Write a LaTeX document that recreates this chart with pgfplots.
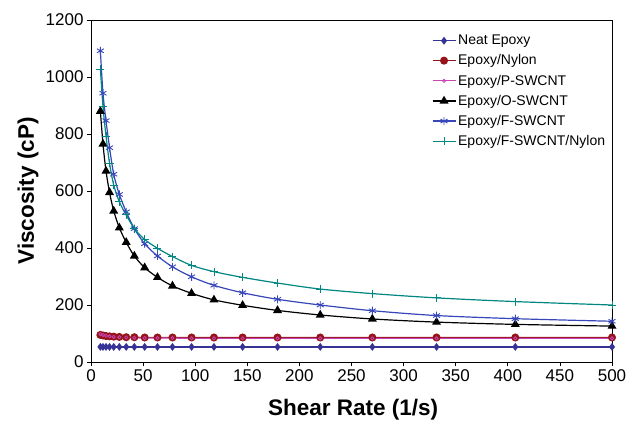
\documentclass[border=0pt]{standalone}
\usepackage{fontspec}
\setmainfont{Liberation Sans}
\usepackage{pgfplots}
\pgfplotsset{compat=1.18}
\definecolor{neatc}{RGB}{55,50,150}
\definecolor{nylonc}{RGB}{150,20,25}
\definecolor{pswc}{RGB}{200,70,180}
\definecolor{fswc}{RGB}{55,70,185}
\definecolor{tealc}{RGB}{0,135,130}

\pgfplotstableread{
x     neat nylon pswc oswc fswc fnyl
9     53   95    98   880  1092 1028
11.5  53   93    95   765  943  896
14.4  53   91    92   670  847  793
17.8  53   90    90   595  752  697
21.8  53   89    88   530  659  621
27.2  53   88    87   471  588  562
33.8  53   87    86   420  527  516
41.6  53   87    85   372  468  468
51.5  53   86    84   331  415  430
63.8  53   86    84   297  372  399
78.2  53   86    84   267  334  370
96.5  53   86    83   241  299  339
118   53   86    83   218  269  317
145.5 53   86    83   199  243  297
179   53   86    83   181  220  277
220   53   86    83   165  200  256
270   53   86    83   151  180  240
331.6 53   86    83   140  163  225
407.2 53   86    83   132  152  212
500   53   86    83   126  143  200
}\visc

\begin{document}
\begin{tikzpicture}
\begin{axis}[
    name=ax,
    scale only axis,
    width=521pt, height=342pt,
    xmin=0, xmax=500, ymin=0, ymax=1200,
    xtick={0,50,...,500},
    ytick={0,200,...,1200},
    tick align=outside,
    xtick pos=left, ytick pos=left,
    major tick length=4pt,
    axis line style={line width=0.8pt},
    tick style={line width=0.8pt, black},
    /pgf/number format/assume math mode=true,
    /pgf/number format/set thousands separator={},
    tick label style={font=\fontsize{17}{19}\selectfont},
    xlabel={\textbf{Shear Rate (1/s)}},
    ylabel={\textbf{Viscosity (cP)}},
    label style={font=\fontsize{22.5}{25}\selectfont},
    xlabel style={at={(axis description cs:0.503,-0.14)}, anchor=center},
    ylabel style={at={(axis description cs:-0.121,0.5)}, anchor=center, rotate=0},
    legend style={at={(axis description cs:0.654,0.962)}, anchor=north west,
        draw=none, fill=none, inner sep=0pt, row sep=4.5pt,
        font=\fontsize{14}{16}\selectfont, cells={anchor=west}},
    legend image code/.code={\draw[mark repeat=2,mark phase=2,#1] plot coordinates {(0pt,0pt) (11.5pt,0pt) (23pt,0pt)};},
    every axis plot/.append style={line width=1.2pt},
]
\addplot[neatc, mark=diamond*, mark size=3pt, mark options={fill=neatc}] table[x=x,y=neat] {\visc};
\addplot[nylonc, mark=*, mark size=3.4pt, mark options={fill=nylonc}] table[x=x,y=nylon] {\visc};
\addplot[pswc, mark=o, mark size=1.6pt, mark options={fill=white, line width=0.8pt}] table[x=x,y=pswc] {\visc};
\addplot[black, smooth, mark=triangle*, mark size=4pt, mark options={fill=black}] table[x=x,y=oswc] {\visc};
\addplot[fswc, smooth, mark=asterisk, mark size=4pt, mark options={line width=0.9pt}] table[x=x,y=fswc] {\visc};
\addplot[tealc, smooth, mark=+, mark size=4pt, mark options={line width=0.9pt}] table[x=x,y=fnyl] {\visc};
\legend{Neat Epoxy, Epoxy/Nylon, Epoxy/P-SWCNT, Epoxy/O-SWCNT, Epoxy/F-SWCNT, Epoxy/F-SWCNT/Nylon}
\end{axis}
\path (ax.south west) ++(-91pt,-61pt) rectangle ([shift={(20pt,20pt)}]ax.north east);
\end{tikzpicture}
\end{document}
